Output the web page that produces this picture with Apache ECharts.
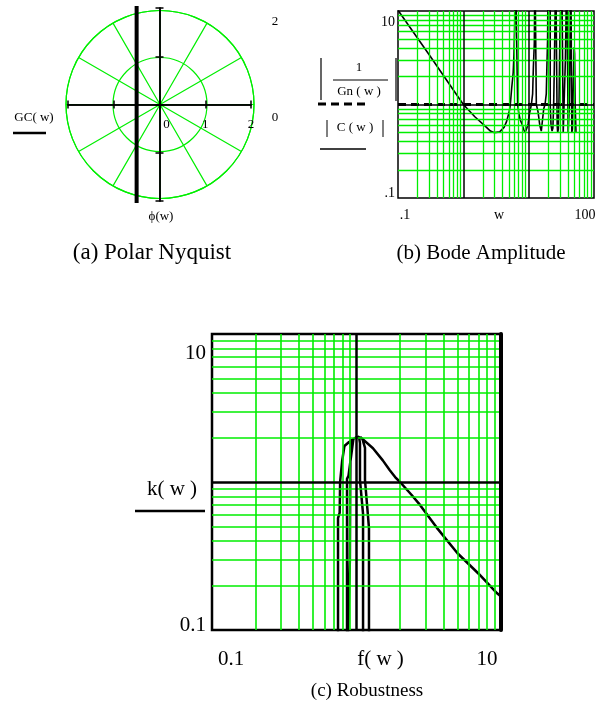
<!DOCTYPE html>
<html>
<head>
<meta charset="utf-8">
<script src="https://cdn.jsdelivr.net/npm/echarts@6/dist/echarts.min.js"></script>
<style>
    html, body { margin: 0; padding: 0; background: #fff; }
    #chart { width: 604px; height: 708px; }
</style>
</head>
<body>
<div id="chart"></div>
<script>
// (a) Polar Nyquist: GC(w) runs along Re = -0.5
const gcRe = [-0.5, -0.5, -0.5];
const gcIm = [2.2, 0, -2.2];
const polarTicks = [0, 1, 2];

// (b) Bode amplitude: |C(w)| solid, 1/|Gn(w)| dashed
const bodeW = [0.1, 0.3, 1.0, 1.5, 2.2, 2.6, 3.0, 3.6, 4.2, 4.6, 5.0, 5.2, 5.5, 5.8, 5.95, 6.1, 6.3,
    6.7, 6.78, 7.0, 7.4, 7.9, 8.4, 8.8, 9.3, 9.8, 10.3, 11.0, 11.5, 11.8, 12.2, 12.5,
    13.0, 13.1, 13.9, 14.8, 15.6, 16.3, 17.0, 17.8, 18.6, 19.0, 19.5, 19.8,
    21.3, 21.4, 22.0, 22.8, 23.5, 24.2, 24.8, 26.0,
    27.1, 27.3, 27.8, 28.5, 29.2, 30.0, 32.1,
    33.6, 33.8, 34.4, 35.2, 36.5, 38.3,
    40.0, 40.2, 41.0, 42.0, 44.2,
    45.6, 45.8, 46.8, 47.8, 49.6, 50.5, 51.5, 53.0];
const bodeC = [10.2, 3.4, 1.0, 0.74, 0.58, 0.52, 0.5, 0.51, 0.57, 0.66, 0.82, 0.95, 1.5, 2.2, 3.4, 6.8, 30,
    30, 1.0, 0.84, 0.69, 0.62, 0.54, 0.5, 0.55, 0.62, 0.8, 1.0, 1.3, 2.5, 4.5, 30,
    30, 1.0, 0.84, 0.6, 0.52, 0.54, 0.9, 1.0, 1.3, 2.5, 5, 30,
    30, 0.95, 0.6, 0.52, 0.56, 1.1, 3, 30,
    30, 0.6, 0.5, 0.55, 1.2, 5, 30,
    30, 0.5, 0.52, 1.3, 3, 30,
    30, 0.5, 0.52, 1.0, 30,
    30, 0.5, 0.55, 1.2, 4.1, 3.5, 1.0, 0.5];
const gnW = [0.1, 100];
const gnInv = [1, 1];
const bodeXTicks = [0.1, 100];
const bodeXText = ['.1', '100'];
const bodeYTicks = [0.1, 10];
const bodeYText = ['.1', '10'];
const bodeXGrid = [0.2, 0.3, 0.4, 0.5, 0.6, 0.7, 0.8, 0.9, 2, 3, 4, 5, 6, 7, 8, 9,
    20, 30, 40, 50, 60, 70, 80, 90];
const bodeYGrid = [0.2, 0.3, 0.4, 0.5, 0.6, 0.7, 0.8, 0.9, 2, 3, 4, 5, 6, 7, 8, 9];
const bodeMarkX = [1, 10];
const bodeMarkY = [1];

// (c) Robustness: k(w) against f(w)
const robF = [0.745, 0.745, 0.765, 0.77, 0.79, 0.795, 0.82, 0.825, 0.88, 0.95,
    0.88, 0.86, 0.86, 0.9, 0.905, 0.91, 0.99, 1.04,
    1.057, 1.057, 1.11, 1.11, 1.22, 1.22, 1.145, 1.145, 1.1, 1.06,
    1.3, 1.52, 1.7, 1.85, 2.0, 2.4, 2.75, 3.6, 5.0, 7.0, 9.4, 10];
const robK = [0.05, 0.57, 0.62, 1.0, 1.03, 1.38, 1.42, 1.75, 1.85, 1.93,
    1.1, 1.05, 0.05, 0.3, 1.0, 1.9, 2.0, 2.02,
    1.83, 1.03, 0.61, 0.05, 0.05, 0.49, 1.03, 1.7, 1.95, 2.02,
    1.69, 1.40, 1.2, 1.08, 1.0, 0.82, 0.70, 0.49, 0.33, 0.24, 0.177, 0.168];
const robXTicks = [0.1, 10];
const robXText = ['0.1', '10'];
const robYTicks = [0.1, 10];
const robYText = ['0.1', '10'];
const robGrid = [0.2, 0.3, 0.4, 0.5, 0.6, 0.7, 0.8, 0.9, 2, 3, 4, 5, 6, 7, 8, 9];
const robMarkX = [1];
const robMarkY = [1];

const SERIF = 'Liberation Serif';
const GREEN = '#00ee00';

function zip(a, b) {
    return a.map((v, i) => [v, b[i]]);
}

function tickText(ticks, texts, v) {
    const i = ticks.findIndex((t) => Math.abs(Math.log10(t) - Math.log10(v)) < 1e-6);
    return i < 0 ? null : texts[i];
}

function gridLines(xs, ys, color, width) {
    return {
        silent: true,
        symbol: 'none',
        label: { show: false },
        lineStyle: { color: color, width: width, type: 'solid' },
        data: xs.map((v) => ({ xAxis: v })).concat(ys.map((v) => ({ yAxis: v }))),
    };
}

// black cross axes of the polar panel, pulled into the middle of its grid
function crossAxis(position, offset, withLabels) {
    return {
        gridIndex: 0, type: 'value', min: -2, max: 2, interval: 1, position: position, offset: offset, z: 3,
        axisLine: { onZero: false, lineStyle: { color: '#000', width: 1.5 } },
        axisTick: { length: 4, lineStyle: { color: '#000', width: 1.5 } },
        splitLine: { show: false },
        axisLabel: withLabels ? {
            margin: 14, color: '#000', fontFamily: SERIF, fontSize: 13,
            formatter: (v) => polarTicks.includes(v) ? (v === 0 ? '{z|0}' : '{n|' + v + '}') : '',
            rich: {
                z: { padding: [0, 0, 0, 14], fontFamily: SERIF, fontSize: 13, color: '#000' },
                n: { fontFamily: SERIF, fontSize: 13, color: '#000' },
            },
        } : { show: false },
    };
}

const chart = echarts.init(document.getElementById('chart'));

const hidden = { axisLine: { show: false }, axisTick: { show: false }, splitLine: { show: false } };

chart.setOption({
    animation: false,
    polar: { center: [160, 104.5], radius: 94 },
    angleAxis: {
        type: 'value', min: 0, max: 360, interval: 30, startAngle: 0, clockwise: false, z: 1,
        axisLine: { show: true, lineStyle: { color: GREEN, width: 1.2 } },
        axisTick: { show: false }, axisLabel: { show: false },
        splitLine: { show: true, lineStyle: { color: GREEN, width: 1.2 } },
    },
    radiusAxis: {
        type: 'value', min: 0, max: 2, interval: 1, z: 1,
        axisLine: { show: false }, axisTick: { show: false }, axisLabel: { show: false },
        splitLine: { show: true, lineStyle: { color: GREEN, width: 1.2 } },
    },
    grid: [
        { left: 68, top: 8, width: 183, height: 193 },
        { left: 398, top: 11, width: 196, height: 187, show: true, borderColor: '#000', borderWidth: 1.5 },
        { left: 212, top: 334, width: 289, height: 296, show: true, borderColor: '#000', borderWidth: 2.5 },
    ],
    xAxis: [
        crossAxis('bottom', -96.5, true),
        crossAxis('top', -96.5, false),
        Object.assign({
            gridIndex: 1, type: 'log', logBase: 10, min: 0.1, max: 100,
            name: 'w', nameLocation: 'middle', nameGap: 10, nameMoveOverlap: false,
            nameTextStyle: { color: '#000', fontFamily: SERIF, fontSize: 14, padding: [0, 0, 0, 6] },
            axisLabel: {
                margin: 10, color: '#000', fontFamily: SERIF, fontSize: 14,
                showMinLabel: true, showMaxLabel: true,
                formatter: (v) => {
                    const t = tickText(bodeXTicks, bodeXText, v);
                    if (t === null) return '';
                    return v < 1 ? '{l|' + t + '}' : '{r|' + t + '}';
                },
                rich: {
                    l: { padding: [0, 0, 0, 14], fontFamily: SERIF, fontSize: 14, color: '#000' },
                    r: { padding: [0, 18, 0, 0], fontFamily: SERIF, fontSize: 14, color: '#000' },
                },
            },
        }, hidden),
        Object.assign({
            gridIndex: 2, type: 'log', logBase: 10, min: 0.1, max: 10,
            name: 'f( w )', nameLocation: 'middle', nameGap: 19, nameMoveOverlap: false,
            nameTextStyle: { color: '#000', fontFamily: SERIF, fontSize: 21, padding: [0, 0, 0, 48] },
            axisLabel: {
                margin: 19, color: '#000', fontFamily: SERIF, fontSize: 21,
                showMinLabel: true, showMaxLabel: true,
                formatter: (v) => {
                    const t = tickText(robXTicks, robXText, v);
                    if (t === null) return '';
                    return v < 1 ? '{l|' + t + '}' : '{r|' + t + '}';
                },
                rich: {
                    l: { padding: [0, 0, 0, 38], fontFamily: SERIF, fontSize: 21, color: '#000' },
                    r: { padding: [0, 28, 0, 0], fontFamily: SERIF, fontSize: 21, color: '#000' },
                },
            },
        }, hidden),
    ],
    yAxis: [
        crossAxis('left', -91.5, false),
        crossAxis('right', -91.5, false),
        Object.assign({
            gridIndex: 1, type: 'log', logBase: 10, min: 0.1, max: 10,
            axisLabel: {
                margin: 3, color: '#000', fontFamily: SERIF, fontSize: 14,
                showMinLabel: true, showMaxLabel: true,
                formatter: (v) => {
                    const t = tickText(bodeYTicks, bodeYText, v);
                    if (t === null) return '';
                    return v < 1 ? '{b|' + t + '}' : '{t|' + t + '}';
                },
                rich: {
                    b: { padding: [0, 0, 10, 0], fontFamily: SERIF, fontSize: 14, color: '#000' },
                    t: { padding: [22, 0, 0, 0], fontFamily: SERIF, fontSize: 14, color: '#000' },
                },
            },
        }, hidden),
        Object.assign({
            gridIndex: 2, type: 'log', logBase: 10, min: 0.1, max: 10,
            axisLabel: {
                margin: 6, color: '#000', fontFamily: SERIF, fontSize: 21,
                showMinLabel: true, showMaxLabel: true,
                formatter: (v) => {
                    const t = tickText(robYTicks, robYText, v);
                    if (t === null) return '';
                    return v < 1 ? '{b|' + t + '}' : '{t|' + t + '}';
                },
                rich: {
                    b: { padding: [0, 0, 10, 0], fontFamily: SERIF, fontSize: 21, color: '#000' },
                    t: { padding: [38, 0, 0, 0], fontFamily: SERIF, fontSize: 21, color: '#000' },
                },
            },
        }, hidden),
        {
            // heavier right frame of panel (c)
            gridIndex: 2, type: 'log', logBase: 10, min: 0.1, max: 10, position: 'right', z: 5,
            axisLine: { show: true, lineStyle: { color: '#000', width: 4 } },
            axisTick: { show: false }, axisLabel: { show: false }, splitLine: { show: false },
        },
    ],
    series: [
        {
            name: 'GC(w)', type: 'line', xAxisIndex: 0, yAxisIndex: 0, z: 5,
            data: zip(gcRe, gcIm), symbol: 'none',
            lineStyle: { color: '#000', width: 4 },
        },
        {
            name: 'bode grid', type: 'line', xAxisIndex: 2, yAxisIndex: 2, z: 1, data: [],
            markLine: gridLines(bodeXGrid, bodeYGrid, GREEN, 1.3),
        },
        {
            name: 'bode markers', type: 'line', xAxisIndex: 2, yAxisIndex: 2, z: 2, data: [],
            markLine: gridLines(bodeMarkX, bodeMarkY, '#000', 1.5),
        },
        {
            name: '1/|Gn(w)|', type: 'line', xAxisIndex: 2, yAxisIndex: 2, z: 3,
            data: zip(gnW, gnInv), symbol: 'none',
            lineStyle: { color: '#000', width: 3, type: [8, 5] },
        },
        {
            name: '|C(w)|', type: 'line', xAxisIndex: 2, yAxisIndex: 2, z: 4,
            data: zip(bodeW, bodeC), symbol: 'none',
            lineStyle: { color: '#000', width: 1.6 },
        },
        {
            name: 'rob grid', type: 'line', xAxisIndex: 3, yAxisIndex: 3, z: 1, data: [],
            markLine: gridLines(robGrid, robGrid, GREEN, 1.6),
        },
        {
            name: 'rob markers', type: 'line', xAxisIndex: 3, yAxisIndex: 3, z: 2, data: [],
            markLine: gridLines(robMarkX, robMarkY, '#000', 2.5),
        },
        {
            name: 'k(w)', type: 'line', xAxisIndex: 3, yAxisIndex: 3, z: 4,
            data: zip(robF, robK), symbol: 'none',
            lineStyle: { color: '#000', width: 2.5 },
        },
    ],
    graphic: [
        // (a) labels
        { type: 'text', x: 34, y: 118, style: { text: 'GC( w)', font: '13px ' + SERIF, fill: '#000', align: 'center', verticalAlign: 'middle' } },
        { type: 'line', shape: { x1: 13, y1: 133, x2: 46, y2: 133 }, style: { stroke: '#000', lineWidth: 2.7 } },
        { type: 'text', x: 161, y: 217, style: { text: 'ϕ(w)', font: '13px ' + SERIF, fill: '#000', align: 'center', verticalAlign: 'middle' } },
        { type: 'text', x: 275, y: 22, style: { text: '2', font: '13px ' + SERIF, fill: '#000', align: 'center', verticalAlign: 'middle' } },
        { type: 'text', x: 275, y: 118, style: { text: '0', font: '13px ' + SERIF, fill: '#000', align: 'center', verticalAlign: 'middle' } },
        // (b) legend block
        { type: 'line', shape: { x1: 321, y1: 58, x2: 321, y2: 100 }, style: { stroke: '#000', lineWidth: 1.2 } },
        { type: 'text', x: 359, y: 68, style: { text: '1', font: '13px ' + SERIF, fill: '#000', align: 'center', verticalAlign: 'middle' } },
        { type: 'line', shape: { x1: 333, y1: 80, x2: 388, y2: 80 }, style: { stroke: '#000', lineWidth: 1 } },
        { type: 'text', x: 359, y: 92, style: { text: 'Gn ( w )', font: '13px ' + SERIF, fill: '#000', align: 'center', verticalAlign: 'middle' } },
        { type: 'line', shape: { x1: 396, y1: 58, x2: 396, y2: 101 }, style: { stroke: '#000', lineWidth: 1.2 } },
        { type: 'line', shape: { x1: 318, y1: 104, x2: 365, y2: 104 }, style: { stroke: '#000', lineWidth: 3, lineDash: [8, 5] } },
        { type: 'line', shape: { x1: 327, y1: 120, x2: 327, y2: 137 }, style: { stroke: '#000', lineWidth: 1 } },
        { type: 'text', x: 355, y: 128, style: { text: 'C ( w )', font: '13px ' + SERIF, fill: '#000', align: 'center', verticalAlign: 'middle' } },
        { type: 'line', shape: { x1: 383, y1: 120, x2: 383, y2: 137 }, style: { stroke: '#000', lineWidth: 1 } },
        { type: 'line', shape: { x1: 320, y1: 149, x2: 366, y2: 149 }, style: { stroke: '#000', lineWidth: 1.5 } },
        // (c) legend
        { type: 'text', x: 172, y: 489, style: { text: 'k( w )', font: '21px ' + SERIF, fill: '#000', align: 'center', verticalAlign: 'middle' } },
        { type: 'line', shape: { x1: 135, y1: 511, x2: 205, y2: 511 }, style: { stroke: '#000', lineWidth: 2.5 } },
        // captions
        { type: 'text', x: 152, y: 253, style: { text: '(a) Polar Nyquist', font: '23px ' + SERIF, fill: '#000', align: 'center', verticalAlign: 'middle' } },
        { type: 'text', x: 481, y: 253, style: { text: '(b) Bode Amplitude', font: '21px ' + SERIF, fill: '#000', align: 'center', verticalAlign: 'middle' } },
        { type: 'text', x: 367, y: 691, style: { text: '(c) Robustness', font: '19px ' + SERIF, fill: '#000', align: 'center', verticalAlign: 'middle' } },
    ],
});
</script>
</body>
</html>
